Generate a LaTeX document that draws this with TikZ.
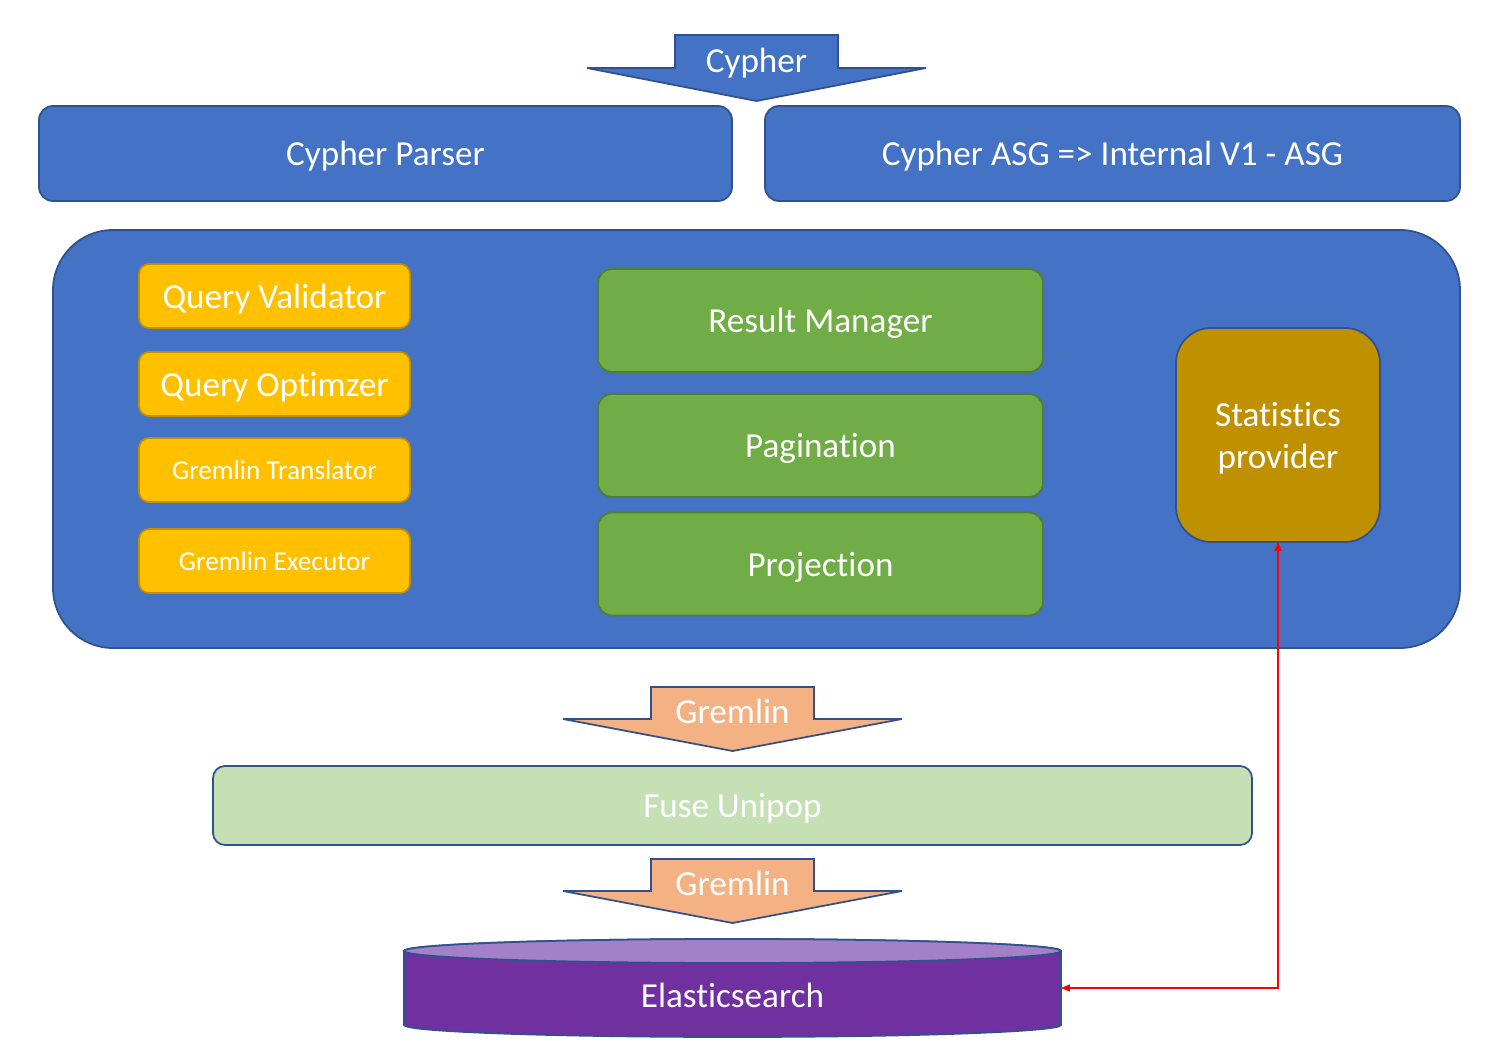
\documentclass[tikz,border=0pt]{standalone}
\usepackage{fontspec}
\setmainfont[Ligatures=NoCommon]{Carlito}
\usetikzlibrary{arrows.meta}
\definecolor{fuseblue}{HTML}{4472C4}
\definecolor{fuseedge}{HTML}{2F528F}
\definecolor{fuseyellow}{HTML}{FFC000}
\definecolor{fuseyedge}{HTML}{BF9000}
\definecolor{fusegreen}{HTML}{70AD47}
\definecolor{fusegedge}{HTML}{507E32}
\definecolor{fusegold}{HTML}{BF9000}
\definecolor{fusepeach}{HTML}{F4B183}
\definecolor{fuselight}{HTML}{C5E0B4}
\definecolor{espurple}{HTML}{7030A0}
\definecolor{estop}{HTML}{A480C8}
\newcommand{\pxl}[1]{#1*0.02cm}
\begin{document}
\begin{tikzpicture}[x=0.02cm, y=-0.02cm, line width=1pt,
	big/.style={font=\fontsize{20}{24}\selectfont, text=white, text depth=0pt},
	small/.style={font=\fontsize{15.5}{19}\selectfont, text=white, text depth=0pt},
	layerbox/.style={draw=fuseedge, fill=fuseblue, rounded corners=\pxl{14}, outer sep=0pt, inner sep=0pt},
	qbox/.style={draw=fuseyedge, fill=fuseyellow, rounded corners=\pxl{10}, outer sep=0pt, inner sep=0pt,
		minimum width=\pxl{271}, minimum height=\pxl{64}},
	gbox/.style={draw=fusegedge, fill=fusegreen, rounded corners=\pxl{14}, outer sep=0pt, inner sep=0pt,
		minimum width=\pxl{445}, minimum height=\pxl{103}, big}]
	\useasboundingbox (0,0) rectangle (1495,1047);
	
	% cypher input
	\draw[draw=fuseedge, fill=fuseblue] (675,35) -- (838,35) -- (838,68) -- (926,68) -- (756.5,101) -- (587,68) -- (675,68) -- cycle;
	\node[big] (cypher) at (756.5,60) {Cypher};
	
	% parser row
	\node[layerbox, big, minimum width=\pxl{693}, minimum height=\pxl{95}] (parser) at (385.5,153.5) {Cypher Parser};
	\node[layerbox, big, minimum width=\pxl{695}, minimum height=\pxl{95}] (asg) at (1112.5,153.5) {Cypher ASG => Internal V1 - ASG};
	
	% core
	\node[layerbox, rounded corners=\pxl{60}, minimum width=\pxl{1407}, minimum height=\pxl{418}] (core) at (756.5,439) {};
	\node[qbox, big] (validator) at (274.5,296) {Query Validator};
	\node[qbox, big] (optimizer) at (274.5,384) {Query Optimzer};
	\node[qbox, small] (translator) at (274.5,470) {Gremlin Translator};
	\node[qbox, small] (executor) at (274.5,561) {Gremlin Executor};
	\node[gbox] (result) at (820.5,320.5) {Result Manager};
	\node[gbox] (pagination) at (820.5,445.5) {Pagination};
	\node[gbox] (projection) at (820.5,564) {Projection};
	\node[draw=fuseedge, fill=fusegold, rounded corners=\pxl{35}, outer sep=0pt, big, align=center,
		minimum width=\pxl{204}, minimum height=\pxl{214}] (stats) at (1278,435) {Statistics\\provider};
	
	% gremlin arrows
	\foreach \y/\n in {687/gremlinA, 859/gremlinB}
	{
		\draw[draw=fuseedge, fill=fusepeach] (651,\y) -- (814,\y) -- (814,\y+32) -- (902,\y+32) -- (732.5,\y+64) -- (563,\y+32) -- (651,\y+32) -- cycle;
		\node[big] (\n) at (732.5,\y+24) {Gremlin};
	}
	
	% unipop
	\node[layerbox, fill=fuselight, rounded corners=\pxl{12}, big, minimum width=\pxl{1039}, minimum height=\pxl{79}] (unipop) at (732.5,805.5) {Fuse Unipop};
	
	% elasticsearch
	\draw[draw=fuseedge, fill=espurple] (404,951) -- (404,1025) arc[start angle=180, end angle=0, x radius=328.5, y radius=12]
		-- (1061,951) arc[start angle=0, end angle=-180, x radius=328.5, y radius=12] -- cycle;
	\draw[draw=fuseedge, fill=estop] (732.5,951) ellipse[x radius=328.5, y radius=12];
	\node[big, text height=22pt, outer sep=0pt, inner sep=0pt, minimum width=\pxl{657}, minimum height=\pxl{74}] (es) at (732.5,988) {Elasticsearch};
	
	% statistics link
	\draw[red, line width=0.6pt, {Triangle[length=5pt,width=4pt]}-{Triangle[length=5pt,width=4pt]}] (es.east) -| (stats.south);
\end{tikzpicture}
\end{document}
